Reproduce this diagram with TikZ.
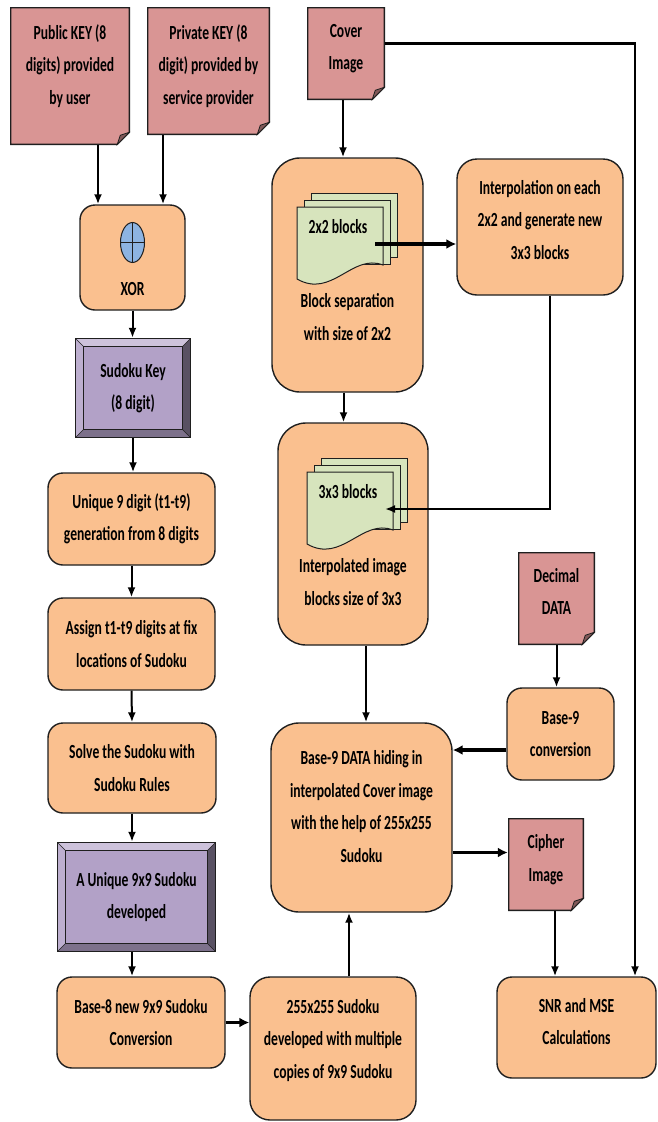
\documentclass[tikz,border=0pt]{standalone}
\usepackage{fontspec}
\setmainfont{Carlito}[FakeStretch=0.68]
\usetikzlibrary{arrows.meta}

\definecolor{docred}{HTML}{D99594}
\definecolor{boxorange}{HTML}{FAC08F}
\definecolor{keypurple}{HTML}{B2A1C7}
\definecolor{pagegreen}{HTML}{D7E4BD}
\definecolor{xorblue}{HTML}{8DB4E2}
\definecolor{linegray}{HTML}{1F1F1F}

\tikzset{
  txt/.style={align=center, font=\fontsize{20}{32.5}\selectfont\bfseries, inner sep=0pt},
  box/.style={txt, draw=linegray, line width=1.4pt, fill=boxorange, rounded corners=15pt},
  bigbox/.style={box, rounded corners=28pt},
  doc/.style={txt, path picture={
      \path (path picture bounding box.north west) ++(0.7pt,-0.7pt) coordinate (dnw)
            (path picture bounding box.south east) ++(-0.7pt,0.7pt) coordinate (dse);
      \filldraw[fill=docred, draw=linegray, line width=1.4pt]
        (dnw) -- (dnw -| dse) -- ([yshift=12pt]dse) -- ([xshift=-12pt]dse) -- (dnw |- dse) -- cycle;
      \filldraw[fill=docred!60!black, draw=linegray, line width=0.8pt]
        ([yshift=12pt]dse) -- ([xshift=-12pt]dse) -- ([shift={(-9pt,9pt)}]dse) -- cycle;
    }},
  bevel/.style={txt, path picture={
      \path (path picture bounding box.north west) ++(0.7pt,-0.7pt) coordinate (bnw)
            (path picture bounding box.south east) ++(-0.7pt,0.7pt) coordinate (bse)
            (bnw) ++(8pt,-8pt) coordinate (inw)
            (bse) ++(-8pt,8pt) coordinate (ise);
      \fill[keypurple!65!white] (bnw) -- (bnw -| bse) -- (inw -| ise) -- (inw) -- cycle;
      \fill[keypurple!85!white] (bnw) -- (inw) -- (inw |- ise) -- (bnw |- bse) -- cycle;
      \fill[keypurple!70!black] (bnw |- bse) -- (inw |- ise) -- (ise) -- (bse) -- cycle;
      \fill[keypurple!50!black] (bse) -- (ise) -- (inw -| ise) -- (bnw -| bse) -- cycle;
      \draw[linegray, line width=0.6pt] (bnw) -- (inw) (bnw -| bse) -- (inw -| ise)
        (bse) -- (ise) (bnw |- bse) -- (inw |- ise);
      \filldraw[fill=keypurple, draw=linegray, line width=1pt] (inw) rectangle (ise);
      \draw[linegray, line width=1.4pt] (bnw) rectangle (bse);
    }},
  stack/.pic={
    \foreach \k in {14,7}
      \filldraw[fill=pagegreen, draw=linegray, line width=1pt] (\k,-\k) rectangle (86+\k,64-\k);
    \filldraw[fill=pagegreen, draw=linegray, line width=1pt]
      (0,0) -- (86,0) -- (86,58) .. controls (55,46) and (35,92) .. (0,72) -- cycle;
    \node[txt] at (41,20) {#1};
    \coordinate (-p) at (78,37);
  },
  arr/.style={line width=2pt, -{Latex[length=10pt,width=8pt]}},
  fatarr/.style={line width=3.5pt, -{Latex[length=10pt,width=10pt]}},
}

\begin{document}
\begin{tikzpicture}[x=1pt, y=-1pt]
  \path[use as bounding box, fill=white] (0,0) rectangle (658,1122);

  \node[doc, minimum width=120, minimum height=138,
    label={[txt,yshift=10pt]center:Public KEY (8\\digits) provided\\by user}] (pub) at (70,76) {};
  \node[doc, minimum width=123, minimum height=128,
    label={[txt,yshift=5pt]center:Private KEY (8\\digit) provided by\\service provider}] (priv) at (208.5,71) {};
  \node[doc, minimum width=78, minimum height=93,
    label={[txt,yshift=5pt]center:Cover\\Image}] (cover) at (346,53.5) {};

  \node[box, minimum width=105, minimum height=105,
    label={[txt,yshift=-32pt]center:XOR}] (xor) at (132.5,257.5) {};
  \filldraw[fill=xorblue, draw=linegray, line width=1pt]
    ([yshift=15pt]xor.center) ellipse [x radius=12pt, y radius=20pt];
  \draw[linegray, line width=1pt] ([shift={(-12pt,15pt)}]xor.center) -- ([shift={(12pt,15pt)}]xor.center)
    ([yshift=35pt]xor.center) -- ([yshift=-5pt]xor.center);

  \node[bevel, minimum width=116, minimum height=100] (skey) at (133,388) {Sudoku Key\\(8 digit)};
  \node[box, minimum width=167, minimum height=92] (uniq) at (131.5,519) {Unique 9 digit (t1-t9)\\generation from 8 digits};
  \node[box, minimum width=167, minimum height=92] (assign) at (131.5,644) {Assign t1-t9 digits at fix\\locations of Sudoku};
  \node[box, minimum width=168, minimum height=90] (solve) at (132,768) {Solve the Sudoku with\\Sudoku Rules};
  \node[bevel, minimum width=159, minimum height=110] (sud9) at (136.5,897) {A Unique 9x9 Sudoku\\developed};
  \node[box, minimum width=168, minimum height=91] (base8) at (141,1022.5) {Base-8 new 9x9 Sudoku\\Conversion};
  \node[box, rounded corners=20pt, minimum width=166, minimum height=143,
    label={[txt,yshift=8pt]center:255x255 Sudoku\\developed with multiple\\copies of 9x9 Sudoku}] (s255) at (333,1048.5) {};

  \node[bigbox, minimum width=151, minimum height=234,
    label={[txt,yshift=-42pt]center:Block separation\\with size of 2x2}] (sep) at (347.5,275) {};
  \pic (s2) at (297,207) {stack=2x2 blocks};
  \node[box, rounded corners=20pt, minimum width=166, minimum height=136,
    label={[txt,yshift=7pt]center:Interpolation on each\\2x2 and generate new\\3x3 blocks}] (interp) at (540,227) {};
  \node[bigbox, minimum width=150, minimum height=222,
    label={[txt,yshift=-48pt]center:Interpolated image\\blocks size of 3x3}] (blk3) at (353,534) {};
  \pic (s3) at (307,472) {stack=3x3 blocks};

  \node[doc, minimum width=77, minimum height=93,
    label={[txt,yshift=7pt]center:Decimal\\DATA}] (dec) at (556.5,598.5) {};
  \node[box, minimum width=107, minimum height=92] (conv) at (560.5,734) {Base-9\\conversion};
  \node[bigbox, minimum width=181, minimum height=189,
    label={[txt,yshift=11pt]center:Base-9 DATA hiding in\\interpolated Cover image\\with the help of 255x255\\Sudoku}] (hide) at (361.5,817.5) {};
  \node[doc, minimum width=76, minimum height=93,
    label={[txt,yshift=5pt]center:Cipher\\Image}] (cipher) at (546,864.5) {};
  \node[box, minimum width=159, minimum height=101,
    label={[txt,yshift=6pt]center:SNR and MSE\\Calculations}] (snr) at (576.5,1027.5) {};

  \draw[arr] ([xshift=-34.5pt]xor.north |- pub.south) -- ([xshift=-34.5pt]xor.north);
  \draw[arr] ([xshift=30.5pt]xor.north |- priv.south) -- ([xshift=30.5pt]xor.north);
  \draw[arr] (xor.south) -- (xor.south |- skey.north);
  \draw[arr] (skey.south) -- (skey.south |- uniq.north);
  \draw[arr] (uniq.south) -- (assign.north);
  \draw[arr] (assign.south) -- (solve.north);
  \draw[arr] (solve.south) -- (solve.south |- sud9.north);
  \draw[arr] (sud9.south -| solve.south) -- (base8.north -| solve.south);
  \draw[fatarr] (base8.east) -- (base8.east -| s255.west);
  \draw[arr] ([xshift=16pt]s255.north) -- ([xshift=16pt]s255.north |- hide.south);

  \draw[arr] ([xshift=-3pt]cover.south) -- ([xshift=-3pt]cover.south |- sep.north);
  \draw[arr, line width=2.5pt] ([yshift=10pt]cover.east) -| ([xshift=58.5pt]snr.north);
  \draw[fatarr] (s2-p) -- (s2-p -| interp.west);
  \draw[arr, line width=2.5pt] ([xshift=10pt]interp.south) |- (s3-p);
  \draw[arr] ([xshift=-4pt]sep.south) -- ([xshift=-4pt]sep.south |- blk3.north);
  \draw[arr] ([xshift=13pt]blk3.south) -- ([xshift=13pt]blk3.south |- hide.north);
  \draw[arr] (dec.south) -- (dec.south |- conv.north);
  \draw[fatarr] ([yshift=-16pt]conv.west) -- ([yshift=-16pt]conv.west -| hide.east);
  \draw[fatarr] ([yshift=-35pt]hide.east) -- ([yshift=-35pt]hide.east -| cipher.west);
  \draw[arr] ([xshift=9pt]cipher.south) -- ([xshift=9pt]cipher.south |- snr.north);
\end{tikzpicture}
\end{document}
